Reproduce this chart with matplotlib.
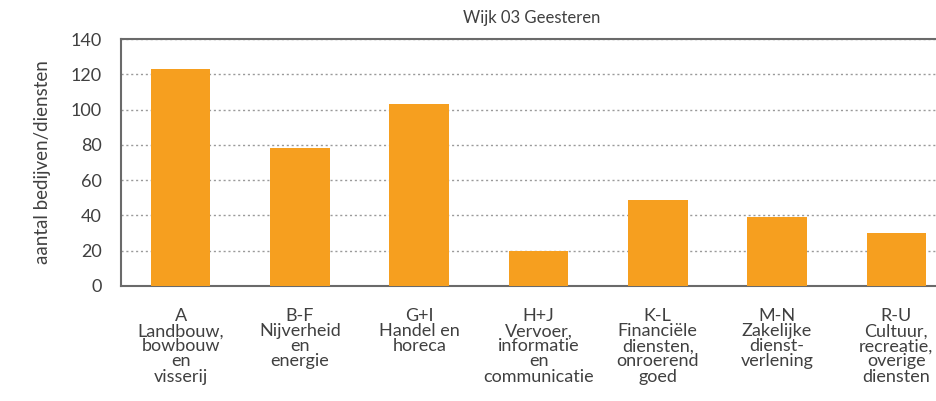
import matplotlib.pyplot as plt

plt.rcParams['font.family'] = ['Lato', 'DejaVu Sans']

categories = [
    "A\nLandbouw,\nbowbouw\nen\nvisserij",
    "B-F\nNijverheid\nen\nenergie",
    "G+I\nHandel en\nhoreca",
    "H+J\nVervoer,\ninformatie\nen\ncommunicatie",
    "K-L\nFinanciële\ndiensten,\nonroerend\ngoed",
    "M-N\nZakelijke\ndienst-\nverlening",
    "R-U\nCultuur,\nrecreatie,\noverige\ndiensten",
]
values = [123, 78, 103, 20, 49, 39, 30]
yticks = [0, 20, 40, 60, 80, 100, 120, 140]

text_color = "#404040"
bar_color = "#F69F1F"

fig = plt.figure(figsize=(9.36, 4.01), dpi=100)
ax = fig.add_axes([121 / 936, 115 / 401, 835 / 936, 247 / 401])

x = range(len(values))
ax.bar(x, values, width=0.5, color=bar_color, zorder=3)

ax.set_xlim(-0.5, len(values) - 0.5)
ax.set_ylim(0, 140)
ax.set_yticks(yticks)
ax.set_xticks(list(x))
ax.set_xticklabels(categories, fontsize=13, color=text_color, linespacing=0.93)
ax.tick_params(axis="both", length=0, colors=text_color)
ax.tick_params(axis="y", labelsize=13, pad=14)
ax.tick_params(axis="x", pad=16)

ax.yaxis.grid(True, linestyle=(0, (1.5, 2)), color="#9A9A9A", linewidth=1.0, zorder=0)
ax.set_axisbelow(True)

for side in ["left", "bottom", "top"]:
    ax.spines[side].set_color("#6A6A6A")
    ax.spines[side].set_linewidth(1.5)
ax.spines["right"].set_visible(False)

ax.set_ylabel("aantal bedijven/diensten", fontsize=13.5, color=text_color, labelpad=14)
fig.text(532 / 936, 1 - 18 / 401, "Wijk 03 Geesteren", ha="center", va="center",
         fontsize=12, color=text_color)

fig.savefig("out.png", dpi=100)
